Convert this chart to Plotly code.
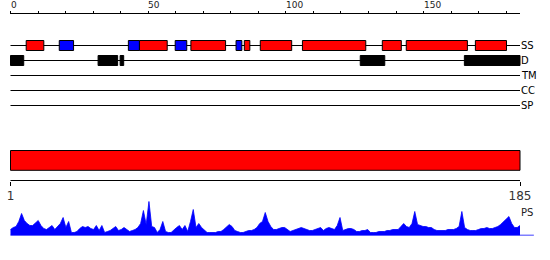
import plotly.graph_objects as go

# ---------------- data ----------------
LENGTH = 185
top_tick_values = list(range(0, 181, 10))
top_tick_labels = [0, 50, 100, 150]
bottom_tick_values = [1, 185]
bottom_tick_labels = ["1", "185"]

track_names = ["SS", "D", "TM", "CC", "SP"]

# secondary structure (helix = red, strand = blue), start/end positions
helix_start = [5.7, 46.8, 65.5, 84.9, 90.7, 106.0, 135.0, 143.7, 168.8]
helix_end = [12.1, 56.9, 78.1, 86.9, 102.1, 129.0, 141.9, 165.9, 180.1]
strand_start = [17.7, 42.8, 59.8, 81.9]
strand_end = [22.9, 46.8, 64.0, 84.0]

# disorder regions
disorder_start = [0.0, 31.8, 39.8, 127.0, 164.8]
disorder_end = [4.8, 38.9, 41.1, 135.9, 185.0]

# per-residue PS profile (residues 1..185)
residues = list(range(1, LENGTH + 1))
ps = [6, 8, 9, 14, 22, 15, 12, 10, 10, 13,
      15, 10, 7, 6, 8, 10, 6, 9, 12, 18,
      8, 14, 3, 3, 4, 7, 9, 8, 9, 7,
      6, 10, 5, 10, 3, 4, 5, 7, 9, 5,
      6, 8, 6, 4, 5, 6, 8, 12, 25, 11,
      34, 9, 8, 3, 6, 14, 4, 3, 3, 6,
      8, 10, 6, 10, 4, 14, 26, 8, 12, 8,
      5, 3, 3, 3, 3, 4, 4, 6, 9, 11,
      9, 5, 4, 3, 3, 4, 5, 5, 6, 8,
      12, 14, 23, 14, 9, 6, 6, 7, 8, 8,
      6, 4, 5, 6, 7, 8, 7, 6, 5, 5,
      6, 7, 8, 5, 7, 8, 7, 6, 10, 18,
      5, 6, 7, 7, 6, 4, 4, 5, 5, 6,
      3, 3, 3, 4, 4, 4, 5, 5, 6, 6,
      6, 9, 12, 9, 8, 12, 24, 11, 10, 9,
      9, 8, 8, 6, 5, 5, 5, 5, 6, 6,
      6, 7, 9, 24, 8, 6, 5, 5, 5, 6,
      7, 7, 8, 7, 7, 8, 9, 11, 14, 17,
      19, 12, 8, 8, 10]

# ---------------- layout constants (pixels) ----------------
W, H = 550, 260
PX0, PX1 = 10.5, 520.0            # pixel positions of sequence start / end
TOP_AXIS_Y = 13.5
TRACK_Y = [45.5, 60.5, 75.5, 90.5, 105.5]
BOX_HALF = 5.0
BAR_Y0, BAR_Y1 = 150.5, 170.3
BOTTOM_AXIS_Y = 180.5
PS_BASE_Y, PS_TOP_Y = 235.5, 195.5
PS_MAX = 40
FONT = "DejaVu Sans"


def axis_range(v0, v1):
    scale = (PX1 - PX0) / (v1 - v0)
    start = v0 - PX0 / scale
    return [start, start + W / scale]


fig = go.Figure()

# top ruler line
fig.add_trace(go.Scatter(x=[0, LENGTH], y=[TOP_AXIS_Y, TOP_AXIS_Y], mode="lines",
                         line=dict(color="black", width=1), hoverinfo="skip",
                         xaxis="x", yaxis="y"))
# track lines
for ty in TRACK_Y:
    fig.add_trace(go.Scatter(x=[0, LENGTH], y=[ty, ty], mode="lines",
                             line=dict(color="black", width=1), hoverinfo="skip",
                             xaxis="x", yaxis="y"))
# bottom ruler line
fig.add_trace(go.Scatter(x=[0, LENGTH], y=[BOTTOM_AXIS_Y, BOTTOM_AXIS_Y], mode="lines",
                         line=dict(color="black", width=1), hoverinfo="skip",
                         xaxis="x", yaxis="y"))

# PS profile
fig.add_trace(go.Scatter(x=residues, y=ps, mode="lines", fill="tozeroy",
                         fillcolor="#0000ff", line=dict(color="#0000ff", width=0.8),
                         hoverinfo="skip", xaxis="x2", yaxis="y2"))
# PS baseline
fig.add_trace(go.Scatter(x=[residues[0], residues[-1] + 5], y=[0, 0], mode="lines",
                         line=dict(color="#0000ff", width=1.5), hoverinfo="skip",
                         xaxis="x2", yaxis="y2"))

shapes = []
ss_y = TRACK_Y[0]
for s, e in zip(helix_start, helix_end):
    shapes.append(dict(type="rect", xref="x", yref="y", x0=s, x1=e,
                       y0=ss_y - BOX_HALF, y1=ss_y + BOX_HALF,
                       fillcolor="#ff0000", line=dict(color="black", width=1)))
for s, e in zip(strand_start, strand_end):
    shapes.append(dict(type="rect", xref="x", yref="y", x0=s, x1=e,
                       y0=ss_y - BOX_HALF, y1=ss_y + BOX_HALF,
                       fillcolor="#0000ff", line=dict(color="black", width=1)))
d_y = TRACK_Y[1]
for s, e in zip(disorder_start, disorder_end):
    shapes.append(dict(type="rect", xref="x", yref="y", x0=s, x1=e,
                       y0=d_y - BOX_HALF, y1=d_y + BOX_HALF,
                       fillcolor="black", line=dict(color="black", width=1)))
# full-length domain bar
shapes.append(dict(type="rect", xref="x", yref="y", x0=0, x1=LENGTH,
                   y0=BAR_Y0, y1=BAR_Y1, fillcolor="#ff0000",
                   line=dict(color="black", width=1)))

annotations = []
for v in top_tick_labels:
    annotations.append(dict(x=v, y=5, xref="x", yref="y", text=str(v),
                            showarrow=False, xanchor="left", yanchor="middle",
                            xshift=-2, font=dict(family=FONT, size=9, color="#222")))
for name, ty in zip(track_names, TRACK_Y):
    annotations.append(dict(x=LENGTH, y=ty, xref="x", yref="y", text=name,
                            showarrow=False, xanchor="left", yanchor="middle",
                            xshift=-1, font=dict(family=FONT, size=10, color="black")))
annotations.append(dict(x=LENGTH, y=212, xref="x", yref="y", text="PS",
                        showarrow=False, xanchor="left", yanchor="middle",
                        xshift=-1, font=dict(family=FONT, size=10, color="#222")))

fig.update_layout(
    width=W, height=H, autosize=False,
    margin=dict(l=0, r=0, t=0, b=0, pad=0),
    paper_bgcolor="white", plot_bgcolor="rgba(0,0,0,0)",
    showlegend=False,
    shapes=shapes, annotations=annotations,
    xaxis=dict(domain=[0, 1], range=axis_range(0, LENGTH), anchor="free",
               position=1 - TOP_AXIS_Y / H, side="top",
               tickmode="array", tickvals=top_tick_values, showticklabels=False,
               ticks="outside", ticklen=3, tickwidth=1, tickcolor="black",
               showline=False, showgrid=False, zeroline=False, fixedrange=True),
    yaxis=dict(domain=[0, 1], range=[H, 0], visible=False, anchor="x",
               fixedrange=True),
    xaxis2=dict(domain=[0, 1], range=axis_range(1, LENGTH), anchor="free",
                position=1 - BOTTOM_AXIS_Y / H, side="bottom",
                tickmode="array", tickvals=bottom_tick_values,
                ticktext=bottom_tick_labels,
                tickfont=dict(family=FONT, size=12, color="#333"),
                ticks="outside", ticklen=4, tickwidth=1, tickcolor="black",
                showline=False, showgrid=False, zeroline=False, fixedrange=True),
    yaxis2=dict(domain=[1 - PS_BASE_Y / H, 1 - PS_TOP_Y / H], range=[0, PS_MAX],
                visible=False, anchor="x2", fixedrange=True),
)

fig.write_html("out.html")
